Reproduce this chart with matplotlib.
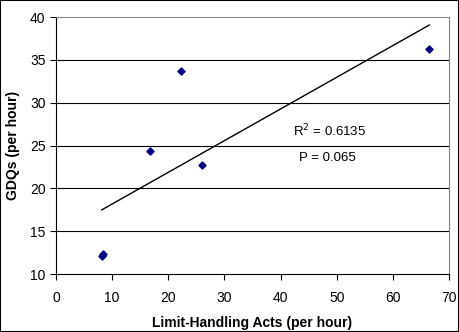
import numpy as np
import matplotlib
matplotlib.use('Agg')
import matplotlib.pyplot as plt
from matplotlib.patches import Rectangle

plt.rcParams['font.family'] = ['Liberation Sans', 'DejaVu Sans']

# data
limit_acts = [8.15, 8.3, 16.8, 22.2, 26.0, 66.5]
gdqs = [12.15, 12.3, 24.4, 33.7, 22.7, 36.3]

x_ticks = [0, 10, 20, 30, 40, 50, 60, 70]
y_ticks = [10, 15, 20, 25, 30, 35, 40]

fig = plt.figure(figsize=(4.59, 3.32), dpi=100)
ax = fig.add_axes([56 / 459, 1 - 274 / 332, (449 - 56) / 459, (274 - 17) / 332])

# gridlines
for yv in y_ticks[1:-1]:
    ax.axhline(yv, color='black', lw=0.8, zorder=1)

ax.scatter(limit_acts, gdqs, marker='D', s=13, color='#000080', zorder=3)

# linear trendline
slope, intercept = np.polyfit(limit_acts, gdqs, 1)
xs = np.array([min(limit_acts), max(limit_acts)])
ax.plot(xs, slope * xs + intercept, color='black', lw=1.0, zorder=2)

ax.text(48.8, 26.7, 'R$^2$ = 0.6135', fontsize=9.5, ha='center', va='center')
ax.text(48.3, 23.5, 'P = 0.065', fontsize=9.5, ha='center', va='center')

ax.set_xlim(0, 70)
ax.set_ylim(10, 40)
ax.set_xticks(x_ticks)
ax.set_yticks(y_ticks)
ax.tick_params(labelsize=10, direction='out', length=4, width=0.8)
ax.tick_params(axis='x', pad=8)
ax.spines['top'].set_color('#808080')
ax.spines['right'].set_color('#808080')
for s in ['left', 'bottom']:
    ax.spines[s].set_color('black')

ax.set_xlabel('Limit-Handling Acts (per hour)', fontsize=10, fontweight='bold', labelpad=8)
ax.set_ylabel('GDQs (per hour)', fontsize=10, fontweight='bold', labelpad=7)

fig.patches.append(Rectangle((0, 0), 1, 1, transform=fig.transFigure,
                             fill=False, edgecolor='black', lw=1.5))

fig.savefig('out.png', dpi=100)
